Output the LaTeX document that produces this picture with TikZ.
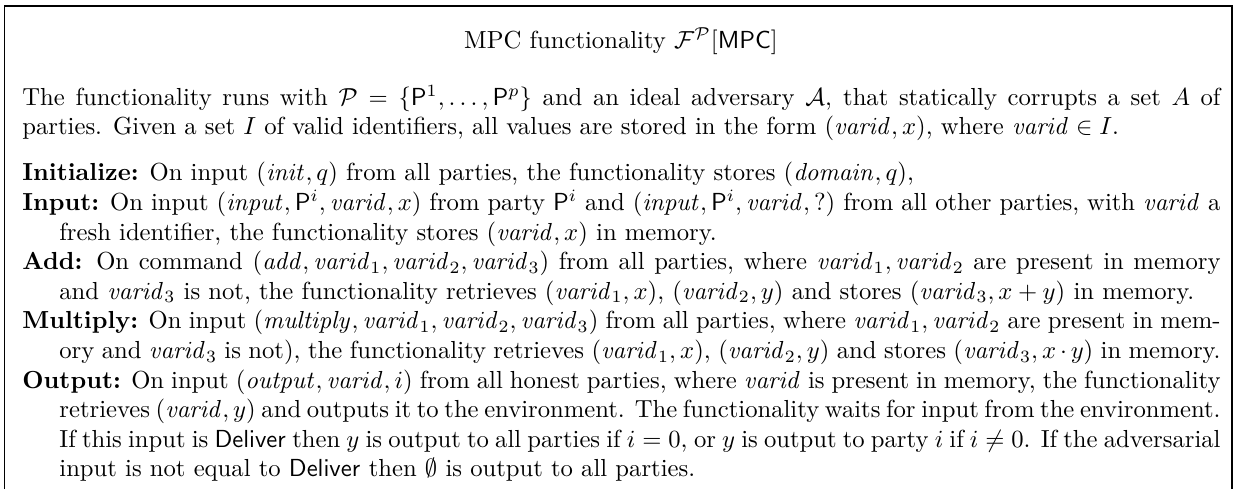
\documentclass[tikz,border=0pt]{standalone}
\usepackage{amsmath,amssymb}
\usetikzlibrary{positioning}
\newcommand{\pty}[1]{\mathsf{P}^{#1}}
\newcommand{\vid}{\mathit{varid}}
\newcommand{\cmditem}[2]{\noindent\hangindent=1.5em\hangafter=1\textbf{#1:} #2\par}
\begin{document}
\begin{tikzpicture}[
    x=1pt,y=1pt,
    frame/.style={line width=0.6pt,draw=black},
    txt/.style={inner sep=0pt,text width=486pt,align=justify,anchor=base west}
  ]
    \useasboundingbox (0,0) rectangle (503.4,-198.4);
    \draw[frame] (1.83,-198.4) -- (1.83,-2.43) -- (499.8,-2.43) -- (499.8,-198.4);
    \node[inner sep=0pt,anchor=base] (title) at (251.9,-19.5) {MPC functionality $\mathcal{F}^{\mathcal{P}}[\mathsf{MPC}]$};
    \node[txt] (intro) at (8.9,-42.6) {The functionality runs with $\mathcal{P} = \{\pty{1}, \dots, \pty{p}\}$ and an ideal adversary $\mathcal{A}$, that statically corrupts a set $A$ of parties. Given a set $I$ of valid identifiers, all values are stored in the form $(\vid, x)$, where $\vid \in I$.};
    \node[txt] (cmds) at (8.9,-73.4) {%
      \cmditem{Initialize}{On input $(\mathit{init}, q)$ from all parties, the functionality stores $(\mathit{domain}, q)$,}
      \cmditem{Input}{On input $(\mathit{input}, \pty{i}, \vid, x)$ from party $\pty{i}$ and $(\mathit{input}, \pty{i}, \vid, ?)$ from all other parties, with $\vid$ a fresh identifier, the functionality stores $(\vid, x)$ in memory.}
      \cmditem{Add}{On command $(\mathit{add}, \vid_1, \vid_2, \vid_3)$ from all parties, where $\vid_1, \vid_2$ are present in memory and $\vid_3$ is not, the functionality retrieves $(\vid_1, x)$, $(\vid_2, y)$ and stores $(\vid_3, x + y)$ in memory.}
      \cmditem{Multiply}{On input $(\mathit{multiply}, \vid_1, \vid_2, \vid_3)$ from all parties, where $\vid_1, \vid_2$ are present in memory and $\vid_3$ is not), the functionality retrieves $(\vid_1, x)$, $(\vid_2, y)$ and stores $(\vid_3, x \cdot y)$ in memory.}
      \cmditem{Output}{On input $(\mathit{output}, \vid, i)$ from all honest parties, where $\vid$ is present in memory, the functionality retrieves $(\vid, y)$ and outputs it to the environment. The functionality waits for input from the environment. If this input is $\mathsf{Deliver}$ then $y$ is output to all parties if $i = 0$, or $y$ is output to party $i$ if $i \neq 0$. If the adversarial input is not equal to $\mathsf{Deliver}$ then $\emptyset$ is output to all parties.}};
\end{tikzpicture}
\end{document}
